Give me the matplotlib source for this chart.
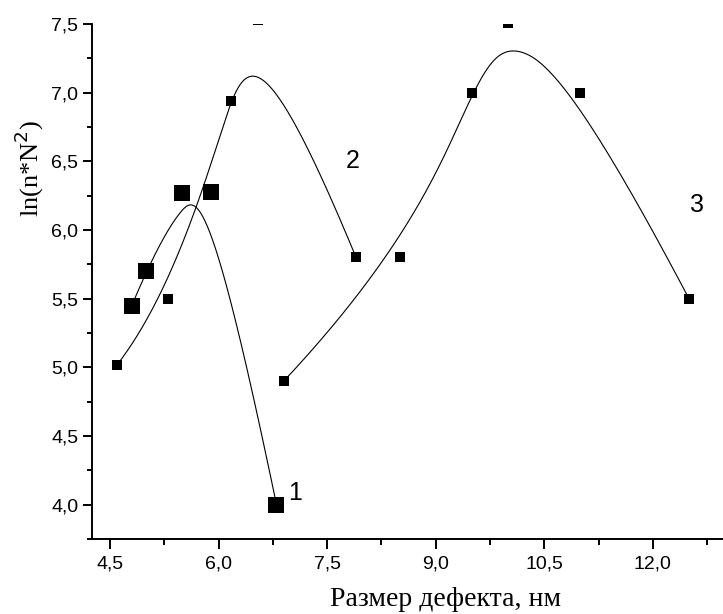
import numpy as np
import matplotlib
matplotlib.use("Agg")
import matplotlib.pyplot as plt
from matplotlib.ticker import MultipleLocator, FuncFormatter

# данные (кривая 1 - большие квадраты, 2 и 3 - маленькие)
x1 = [4.8, 5.0, 5.5, 5.9, 6.8]
y1 = [5.45, 5.7, 6.27, 6.28, 4.0]
x2 = [4.6, 5.3, 6.17, 6.54, 7.9]
y2 = [5.02, 5.5, 6.94, 7.53, 5.8]
x3 = [6.9, 8.5, 9.5, 10.0, 11.0, 12.5]
y3 = [4.9, 5.8, 7.0, 7.51, 7.0, 5.5]
curve_labels = ["1", "2", "3"]
label_x = [7.05, 7.85, 12.61]
label_y = [4.085, 6.505, 6.18]


# B-сплайн по точкам как по контрольным (как в Origin)
def bspline(px, py, k=3, n=400):
    px = np.asarray(px, float)
    py = np.asarray(py, float)
    m = len(px)
    knots = np.concatenate([np.zeros(k), np.linspace(0, 1, m - k + 1), np.ones(k)])
    t = np.linspace(0, 1 - 1e-9, n)
    N = np.zeros((n, len(knots) - 1))
    for i in range(len(knots) - 1):
        N[:, i] = (t >= knots[i]) & (t < knots[i + 1])
    for d in range(1, k + 1):
        Nn = np.zeros((n, len(knots) - 1 - d))
        for i in range(len(knots) - 1 - d):
            a = knots[i + d] - knots[i]
            b = knots[i + d + 1] - knots[i + 1]
            left = (t - knots[i]) / a * N[:, i] if a > 0 else 0
            right = (knots[i + d + 1] - t) / b * N[:, i + 1] if b > 0 else 0
            Nn[:, i] = left + right
        N = Nn
    return N @ px, N @ py


fig = plt.figure(figsize=(7.23, 6.14), dpi=100)
ax = fig.add_axes([0.1272, 0.1221, 0.8728, 0.8388])

for xs, ys, ms in [(x1, y1, 11.5), (x2, y2, 7), (x3, y3, 7)]:
    cx, cy = bspline(xs, ys)
    ax.plot(cx, cy, color="black", lw=0.8)
    ax.plot(xs, ys, "s", color="black", ms=ms, mew=0, lw=0)

for s, lx, ly in zip(curve_labels, label_x, label_y):
    ax.text(lx, ly, s, fontsize=18, family="Liberation Sans", ha="center", va="center")

ax.set_xlim(4.25, 12.97)
ax.set_ylim(3.75, 7.5)

ax.xaxis.set_major_locator(MultipleLocator(1.5))
ax.xaxis.set_minor_locator(MultipleLocator(0.75))
ax.yaxis.set_major_locator(MultipleLocator(0.5))
ax.yaxis.set_minor_locator(MultipleLocator(0.25))
comma = FuncFormatter(lambda v, p: ("%.1f" % v).replace(".", ","))
ax.xaxis.set_major_formatter(comma)
ax.yaxis.set_major_formatter(comma)

for side in ["top", "right"]:
    ax.spines[side].set_visible(False)
for side in ["left", "bottom"]:
    ax.spines[side].set_linewidth(1.4)

ax.tick_params(axis="both", which="both", direction="out", width=1.4,
               labelsize=14, top=False, right=False)
ax.tick_params(axis="x", which="major", length=7.5, pad=4)
ax.tick_params(axis="x", which="minor", length=4)
ax.tick_params(axis="y", which="major", length=6.7, pad=3)
ax.tick_params(axis="y", which="minor", length=3.6)
for lab in ax.get_xticklabels() + ax.get_yticklabels():
    lab.set_family("Liberation Sans")

ax.set_xlabel("Размер дефекта, нм", fontsize=20, family="Liberation Serif")
ax.set_ylabel("ln(n*N$^2$)", fontsize=19, family="Liberation Serif")
ax.xaxis.set_label_coords(0.56, -0.093)
ax.yaxis.set_label_coords(-0.073, 0.72)

fig.savefig("out.png", dpi=100)
